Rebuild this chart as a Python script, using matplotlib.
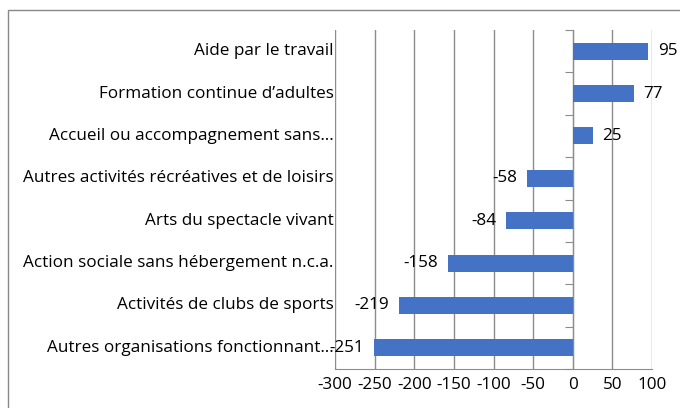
import matplotlib
matplotlib.use("Agg")
import matplotlib.pyplot as plt
from matplotlib.patches import Rectangle
import matplotlib.transforms as mtransforms

categories = [
    "Aide par le travail",
    "Formation continue d\u2019adultes",
    "Accueil ou accompagnement sans\u2026",
    "Autres activit\u00e9s r\u00e9cr\u00e9atives et de loisirs",
    "Arts du spectacle vivant",
    "Action sociale sans h\u00e9bergement n.c.a.",
    "Activit\u00e9s de clubs de sports",
    "Autres organisations fonctionnant\u2026",
]
values = [95, 77, 25, -58, -84, -158, -219, -251]
xticks = [-300, -250, -200, -150, -100, -50, 0, 50, 100]

plt.rcParams['font.family'] = ['Open Sans', 'DejaVu Sans']
GRID = '#8c8c8c'
FS = 12.3

fig = plt.figure(figsize=(6.8, 4.08), dpi=100)
ax = fig.add_axes([335/680, 1 - 369/408, (652 - 335)/680, (369 - 30)/408])

# outer frame of the chart (cut off at right and bottom)
fig.patches.append(Rectangle((8/680, -0.1), 1.2, 1 - 10/408 + 0.1,
                             transform=fig.transFigure, fill=False,
                             edgecolor='#898989', lw=1))

y = list(range(len(categories)))
ax.barh(y, values, height=0.4, color='#4472C4', zorder=3)

ax.set_xlim(-300, 100)
ax.set_ylim(len(categories) - 0.5, -0.5)
ax.set_xticks(xticks)
ax.set_xticklabels([str(t) for t in xticks], fontsize=FS)
ax.tick_params(axis='x', length=0, pad=6)
ax.xaxis.grid(True, color=GRID, lw=1, zorder=0)

# category axis sits at zero, ticks between categories
ax.spines['left'].set_position(('data', 0))
ax.spines['left'].set_color(GRID)
ax.spines['bottom'].set_color(GRID)
ax.spines['top'].set_visible(False)
ax.spines['right'].set_visible(False)
ax.set_yticks([i - 0.5 for i in range(len(categories) + 1)])
ax.set_yticklabels([])
ax.tick_params(axis='y', length=6, color=GRID, direction='out')

trans = mtransforms.blended_transform_factory(ax.transAxes, ax.transData)
for i, cat in enumerate(categories):
    ax.text(-0.005, i, cat, transform=trans, ha='right', va='center', fontsize=FS)

for i, v in enumerate(values):
    off = 7 if v >= 0 else -7
    ax.annotate(str(v), (v, i), xytext=(off, 0), textcoords='offset points',
                ha='left' if v >= 0 else 'right', va='center', fontsize=FS)

fig.savefig('out.png', dpi=100)
